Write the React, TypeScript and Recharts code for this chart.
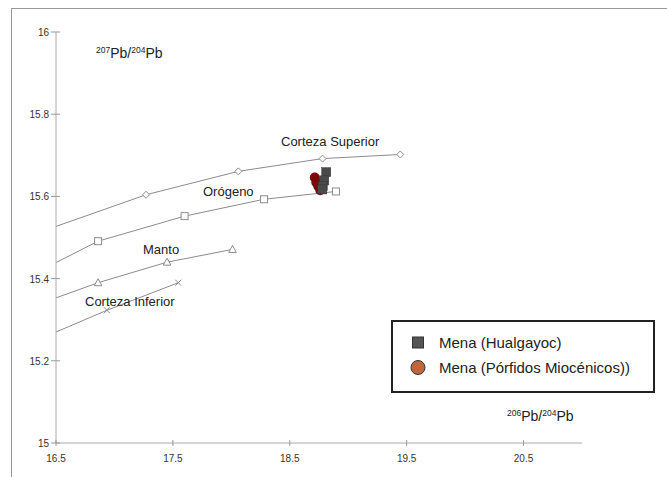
import { ComposedChart, Line, Scatter, XAxis, YAxis } from "recharts";

// Pb isotope plot (207Pb/204Pb vs 206Pb/204Pb) with plumbotectonic curves

const xTicks = [16.5, 17.5, 18.5, 19.5, 20.5];
const yTicks = [15, 15.2, 15.4, 15.6, 15.8, 16];

const cortezaSuperior = [
  { x: 16.5, y: 15.527 },
  { x: 17.27, y: 15.604 },
  { x: 18.06, y: 15.661 },
  { x: 18.78, y: 15.692 },
  { x: 19.445, y: 15.702 },
];
const orogeno = [
  { x: 16.5, y: 15.439 },
  { x: 16.86, y: 15.491 },
  { x: 17.6, y: 15.552 },
  { x: 18.28, y: 15.593 },
  { x: 18.895, y: 15.612 },
];
const manto = [
  { x: 16.5, y: 15.353 },
  { x: 16.86, y: 15.39 },
  { x: 17.45, y: 15.44 },
  { x: 18.01, y: 15.471 },
];
const cortezaInferior = [
  { x: 16.5, y: 15.27 },
  { x: 16.936, y: 15.323 },
  { x: 17.546, y: 15.39 },
];

const hualgayoc = [
  { x: 18.812, y: 15.659 },
  { x: 18.795, y: 15.639 },
  { x: 18.782, y: 15.625 },
  { x: 18.778, y: 15.617 },
];
const porfidos = [
  { x: 18.714, y: 15.646 },
  { x: 18.727, y: 15.634 },
  { x: 18.744, y: 15.625 },
  { x: 18.761, y: 15.615 },
];

const legendItems = ["Mena (Hualgayoc)", "Mena (Pórfidos Miocénicos))"];

const FONT = "'Liberation Sans', Arial, sans-serif";
const CURVE = "#8c8c8c";

type Kind = "diamond" | "square" | "triangle" | "cross";

const marker = (kind: Kind) => (p: any) => {
  const { cx, cy, index } = p;
  if (index === 0 || cx == null) return <g key={`m-${index}`} />;
  const k = `m-${index}`;
  if (kind === "diamond")
    return (
      <path key={k} d={`M${cx},${cy - 3.5}L${cx + 3.5},${cy}L${cx},${cy + 3.5}L${cx - 3.5},${cy}Z`}
        fill="#fff" stroke={CURVE} strokeWidth={1} />
    );
  if (kind === "square")
    return <rect key={k} x={cx - 3.5} y={cy - 3.5} width={7} height={7} fill="#fff" stroke={CURVE} strokeWidth={1} />;
  if (kind === "triangle")
    return (
      <path key={k} d={`M${cx},${cy - 4}L${cx + 3.8},${cy + 3}L${cx - 3.8},${cy + 3}Z`}
        fill="#fff" stroke={CURVE} strokeWidth={1} />
    );
  return (
    <path key={k} d={`M${cx - 3},${cy - 3}L${cx + 3},${cy + 3}M${cx + 3},${cy - 3}L${cx - 3},${cy + 3}`}
      stroke={CURVE} strokeWidth={1} />
  );
};

const YTick = (p: any) => {
  const { x, y, payload } = p;
  return (
    <g>
      <line x1={x + 2} x2={x + 11} y1={y} y2={y} stroke="#999" />
      <text x={x} y={y} dy={4} textAnchor="end" fontSize={10} fill="#333" fontFamily={FONT}>
        {payload.value}
      </text>
    </g>
  );
};

const XTick = (p: any) => {
  const { x, y, payload } = p;
  return (
    <g>
      <line x1={x} x2={x} y1={y - 10} y2={y - 4} stroke="#999" />
      <text x={x} y={y} dy={11.5} textAnchor="middle" fontSize={10} fill="#333" fontFamily={FONT}>
        {payload.value}
      </text>
    </g>
  );
};

const SquareShape = (p: any) => (
  <rect x={p.cx - 4.5} y={p.cy - 4.5} width={9} height={9} fill="#4a4a4a" stroke="#333" strokeWidth={0.5} />
);
const CircleShape = (p: any) => <circle cx={p.cx} cy={p.cy} r={5} fill="#7a0a0a" />;

export default function App() {
  return (
    <div style={{ position: "absolute", left: 0, top: 0, width: 667, height: 477, background: "#fff", overflow: "hidden" }}>
      <ComposedChart width={667} height={477} margin={{ top: 32, right: 85, bottom: 0, left: 0 }}>
        <XAxis
          type="number"
          dataKey="x"
          domain={[16.5, 21]}
          ticks={xTicks}
          height={34}
          tickSize={5}
          tickMargin={2}
          tickLine={false}
          axisLine={{ stroke: "#aaa" }}
          tick={<XTick />}
        />
        <YAxis
          type="number"
          dataKey="y"
          domain={[15, 16]}
          ticks={yTicks}
          width={56}
          tickSize={5}
          tickMargin={2}
          tickLine={false}
          axisLine={{ stroke: "#aaa" }}
          tick={<YTick />}
        />
        <Line data={cortezaSuperior} dataKey="y" type="linear" stroke={CURVE} strokeWidth={1}
          dot={marker("diamond")} activeDot={false} legendType="none" isAnimationActive={false} />
        <Line data={orogeno} dataKey="y" type="linear" stroke={CURVE} strokeWidth={1}
          dot={marker("square")} activeDot={false} legendType="none" isAnimationActive={false} />
        <Line data={manto} dataKey="y" type="linear" stroke={CURVE} strokeWidth={1}
          dot={marker("triangle")} activeDot={false} legendType="none" isAnimationActive={false} />
        <Line data={cortezaInferior} dataKey="y" type="linear" stroke={CURVE} strokeWidth={1}
          dot={marker("cross")} activeDot={false} legendType="none" isAnimationActive={false} />
        <Scatter name={legendItems[1]} data={porfidos} dataKey="y" shape={CircleShape} isAnimationActive={false} />
        <Scatter name={legendItems[0]} data={hualgayoc} dataKey="y" shape={SquareShape} isAnimationActive={false} />
      </ComposedChart>
      <svg width={667} height={477} style={{ position: "absolute", left: 0, top: 0, pointerEvents: "none" }}>
        <rect x={11.5} y={8.5} width={700} height={500} fill="none" stroke="#999" strokeWidth={1} />
        <g fontFamily={FONT} fill="#222">
          <text x={96} y={58}>
            <tspan fontSize={8.5} dy={-5}>207</tspan>
            <tspan fontSize={14} dy={5}>Pb/</tspan>
            <tspan fontSize={8.5} dy={-5}>204</tspan>
            <tspan fontSize={14} dy={5}>Pb</tspan>
          </text>
          <text x={507} y={421}>
            <tspan fontSize={8.5} dy={-5}>206</tspan>
            <tspan fontSize={14} dy={5}>Pb/</tspan>
            <tspan fontSize={8.5} dy={-5}>204</tspan>
            <tspan fontSize={14} dy={5}>Pb</tspan>
          </text>
          <text x={281} y={145.5} fontSize={13}>Corteza Superior</text>
          <text x={203} y={196} fontSize={13}>Orógeno</text>
          <text x={143} y={253.5} fontSize={13}>Manto</text>
          <text x={85} y={305.5} fontSize={13}>Corteza Inferior</text>
        </g>
        <g transform="translate(391,320)" fontFamily={FONT}>
          <rect x={1} y={1} width={262} height={71} fill="#fff" stroke="#222" strokeWidth={2} />
          <rect x={21.5} y={17} width={11} height={11} fill="#555" stroke="#333" strokeWidth={1} />
          <circle cx={27} cy={47.5} r={7} fill="#c0653c" stroke="#333" strokeWidth={1} />
          {legendItems.map((t, i) => (
            <text key={t} x={48} y={27.5 + i * 25} fontSize={15} fill="#222">
              {t}
            </text>
          ))}
        </g>
      </svg>
    </div>
  );
}
